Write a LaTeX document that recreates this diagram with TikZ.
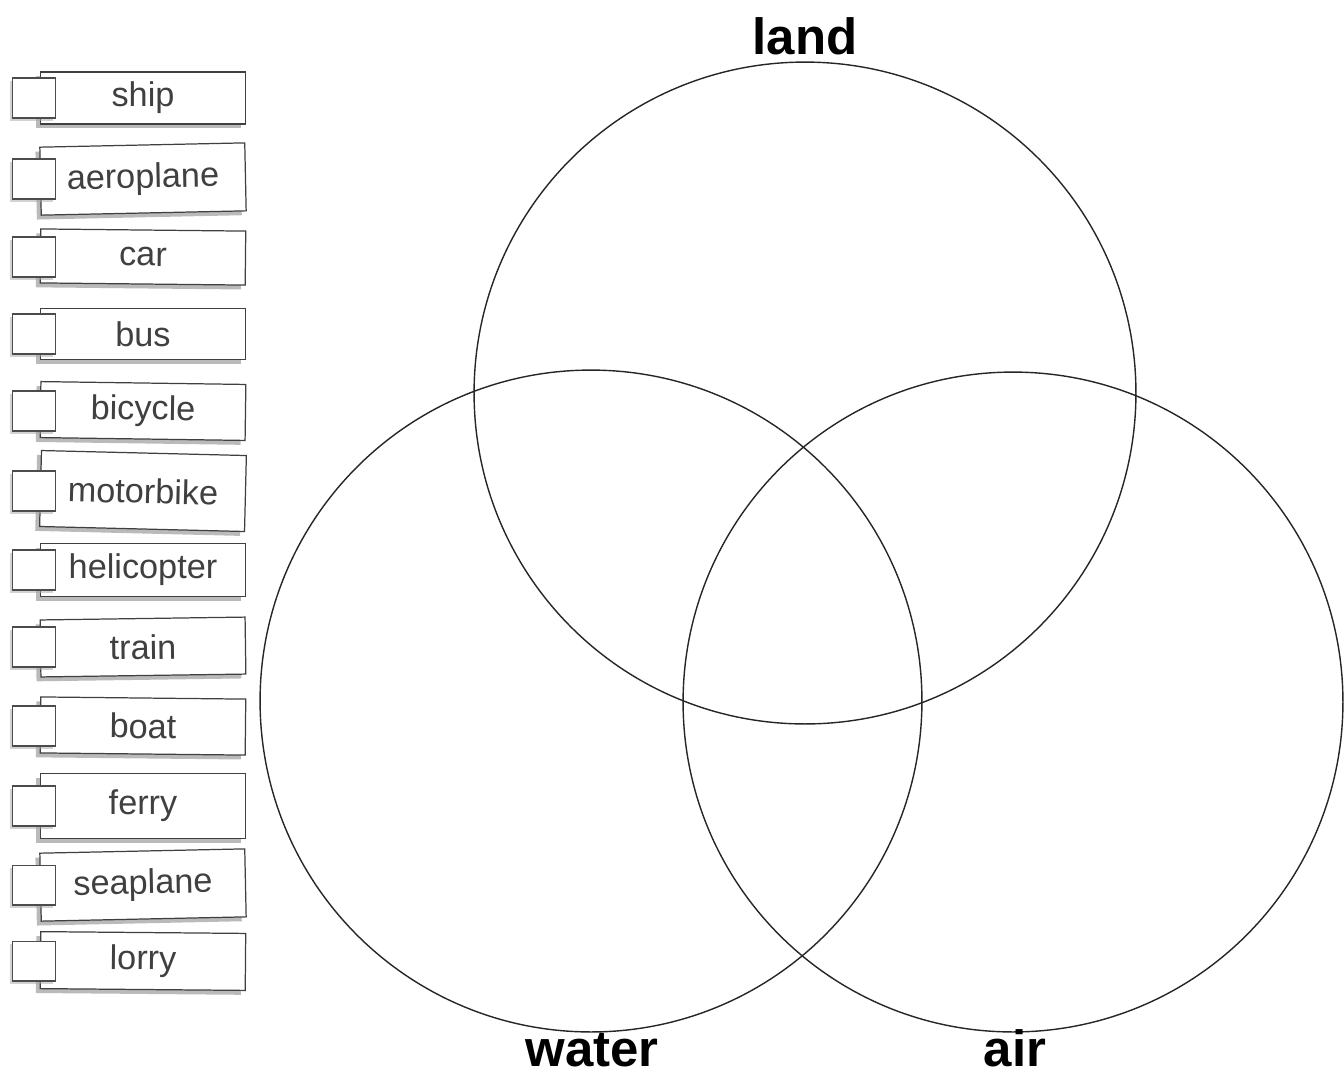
\documentclass[tikz,border=0pt]{standalone}
\usepackage{fontspec}
\setmainfont{Liberation Sans}
\usepackage{tikz}
\usetikzlibrary{shadows}
\tikzset{
  card/.style={draw=black!75, fill=white, line width=0.7pt, minimum width=4.1cm,
    inner sep=0pt, font=\fontsize{19.5}{19.5}\selectfont, text=black!75,
    drop shadow={shadow xshift=-2.5pt, shadow yshift=-2.5pt, fill=black!45, opacity=.6}},
  tick/.style={draw=black!70, fill=white, line width=0.6pt, minimum width=0.86cm,
    minimum height=0.8cm, inner sep=0pt,
    drop shadow={shadow xshift=-1.5pt, shadow yshift=-1.5pt, fill=black!35, opacity=.5}},
  set/.style={draw=black!85, line width=0.8pt},
  setname/.style={font=\fontsize{29}{29}\selectfont\bfseries, anchor=base, inner sep=0pt}
}
\begin{document}
\begin{tikzpicture}[x=0.02cm, y=-0.02cm]
\useasboundingbox (0,0) rectangle (1344,1080);
% the three sets
\node[set, circle, minimum size=13.24cm] (land) at (805,393) {};
\node[set, circle, minimum size=13.24cm] (water) at (591,701) {};
\node[set, circle, minimum size=13.2cm] (air) at (1013,702) {};
\node[setname] (landlbl) at (805,54) {land};
\node[setname] (waterlbl) at (592,1066) {water};
\node[setname] (airlbl) at (1015,1066) {air};
% word cards
\foreach \word/\y/\h/\rot in {ship/98/1.04/0, aeroplane/179/1.36/1.2, car/257/1.08/-0.6,
    bus/334/1.02/0, bicycle/411/1.12/-0.8, motorbike/491/1.52/-1.4,
    helicopter/570/1.06/0, train/647/1.14/0.8, boat/726/1.12/-0.6,
    ferry/806/1.3/0, seaplane/885/1.36/1.2, lorry/961/1.14/-0.5} {
  \node[card, minimum height=\h cm, rotate=\rot] (\word) at (143,\y) {\word};
  \node[tick, anchor=west] (\word box) at (12,\y) {};
}
\end{tikzpicture}
\end{document}
